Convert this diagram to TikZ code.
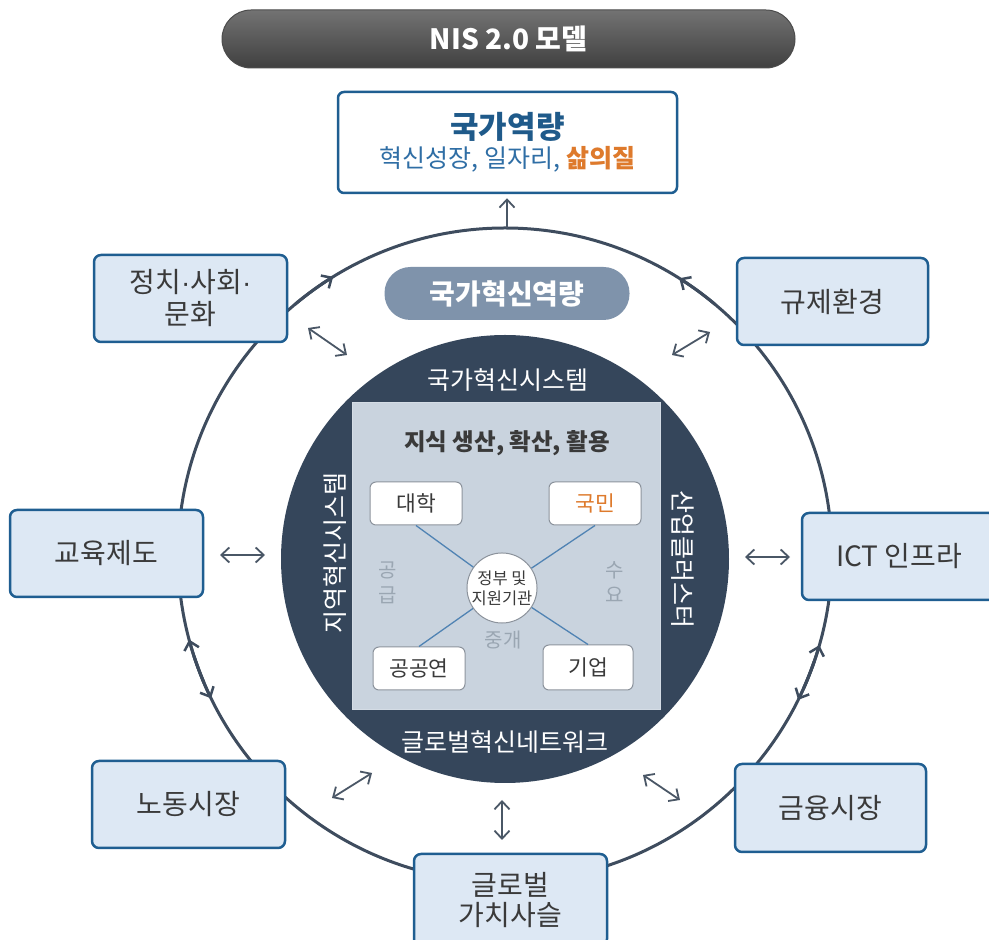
\documentclass[tikz,border=0pt]{standalone}
\usepackage{fontspec}
\setmainfont{Noto Sans CJK KR}
\newfontfamily\latinfont{Liberation Sans}
\usetikzlibrary{arrows.meta}
\definecolor{ringc}{HTML}{3E4C5E}
\definecolor{darkc}{HTML}{35465B}
\definecolor{sqc}{HTML}{C9D3DE}
\definecolor{boxfill}{HTML}{DDE8F4}
\definecolor{boxborder}{HTML}{1F5E91}
\definecolor{txtgray}{HTML}{3A3A3A}
\definecolor{inborder}{HTML}{8C939C}
\definecolor{linkc}{HTML}{5083B3}
\definecolor{lblgray}{HTML}{9AA6B2}
\definecolor{orangec}{HTML}{DE7A2C}
\definecolor{goalblue}{HTML}{1F5A8A}
\definecolor{subblue}{HTML}{2F6EA5}
\definecolor{pillc}{HTML}{7F93AB}
\definecolor{arrc}{HTML}{4A5766}
\newcommand{\mdot}{{\latinfont ·}}
\begin{document}
\begin{tikzpicture}[x=1pt,y=1pt,
  ring/.style={draw=ringc, line width=3pt},
  ringtip/.style={ring, -{Straight Barb[length=8pt,width=15pt,line width=2.5pt]}},
  dblarrow/.style={draw=arrc, line width=1.8pt, {Straight Barb[length=8pt,width=15pt]}-{Straight Barb[length=8pt,width=15pt]}},
  uparrow/.style={draw=arrc, line width=1.8pt, -{Straight Barb[length=8pt,width=15pt]}},
  sidebox/.style={draw=boxborder, line width=2.5pt, fill=boxfill, rounded corners=7pt,
    minimum width=193pt, minimum height=87pt, align=center, text=txtgray,
    font=\fontsize{28}{32}\selectfont},
  inbox/.style={draw=inborder, line width=1pt, fill=white, rounded corners=6pt,
    minimum width=92pt, minimum height=43pt, text=txtgray, font=\fontsize{21.5}{24}\selectfont},
  ontext/.style={text=white, font=\fontsize{25}{28}\selectfont},
  graylbl/.style={text=lblgray, align=center, font=\fontsize{20}{25}\selectfont},
  link/.style={draw=linkc, line width=1.3pt}
]
\useasboundingbox (0,0) rectangle (989,940);
\fill[white] (0,0) rectangle (989,940);

% title pill
\node[draw=black!70, line width=1pt, top color=black!55, bottom color=black!75,
  rounded corners=29pt, minimum width=573pt, minimum height=58pt,
  text=white, font=\bfseries\fontsize{28}{32}\selectfont] (title) at (508.5,901) {NIS 2.0 모델};

% goal box
\node[draw=boxborder, line width=2.5pt, fill=white, rounded corners=6pt,
  minimum width=339pt, minimum height=101pt, align=center] (goal) at (507.5,797.5)
  {{\color{goalblue}\bfseries\fontsize{31}{36}\selectfont 국가역량}\\[4pt]
   {\fontsize{25}{28}\selectfont\color{subblue}혁신성장, 일자리, {\color{orangec}\bfseries 삶의질}}};

% outer ring
\coordinate (O) at (505,385);
\draw[ring] (O) circle[radius=327];
\foreach \a/\b in {130/121.7, 50/57.8, 203/195, 198/206, 336/344, 341/333.7}
  \draw[ringtip] ([shift={(\a:327)}]O) arc[start angle=\a, end angle=\b, radius=327];

% arrow up to goal
\coordinate (ringtop) at (507,712);
\draw[uparrow, shorten >=4pt] (ringtop) -- (goal.south -| ringtop);

% pill national innovation capacity
\node[fill=pillc, rounded corners=26pt, minimum width=245pt, minimum height=53pt,
  text=white, font=\bfseries\fontsize{28}{32}\selectfont] (pill) at (507,646.5) {국가혁신역량};

% dark circle and square
\fill[darkc] (505,381) circle[radius=224];
\node[fill=sqc, draw=sqc!80!white, line width=1pt, minimum width=308pt, minimum height=307pt] (sq) at (506,383.5) {};

\node[ontext] (nis) at (508,560) {국가혁신시스템};
\node[ontext] (gin) at (505,198) {글로벌혁신네트워크};
\node[ontext, rotate=90] (ris) at (335,387) {지역혁신시스템};
\node[ontext, rotate=-90] (cls) at (683,380) {산업클러스터};

\node[text=txtgray, font=\bfseries\fontsize{23.5}{26}\selectfont] (know) at (507,497) {지식 생산, 확산, 활용};

\node[inbox] (univ) at (416,436.5) {대학};
\node[inbox, text=orangec] (people) at (595,436.5) {국민};
\node[inbox] (pri) at (419,271.5) {공공연};
\node[inbox, minimum width=90pt, minimum height=45pt] (firm) at (588,272.5) {기업};
\node[circle, draw=inborder, line width=1pt, fill=white, minimum size=66pt, inner sep=0pt,
  align=center, text=txtgray, font=\fontsize{16.5}{20}\selectfont] (gov) at (502,352) {정부 및\\지원기관};

\draw[link] (gov) -- (univ.south);
\draw[link] (gov) -- (people.south);
\draw[link] (gov) -- (pri.north);
\draw[link] (gov) -- (firm.north);

\node[graylbl] (sup) at (388,357.5) {공\\급};
\node[graylbl] (dem) at (615,357.5) {수\\요};
\node[graylbl] (med) at (503,300) {중개};

% side boxes
\node[sidebox] (pol) at (190.5,641.5) {정치\mdot 사회\mdot\\문화};
\node[sidebox] (edu) at (106.5,386.5) {교육제도};
\node[sidebox, minimum width=191pt] (reg) at (832.5,638.5) {규제환경};
\node[sidebox, minimum width=194pt] (ict) at (899,383.5) {ICT 인프라};
\node[sidebox] (lab) at (188.5,135.5) {노동시장};
\node[sidebox, minimum width=191pt, minimum height=88pt] (fin) at (830.5,132) {금융시장};
\node[sidebox, minimum height=92pt, font=\fontsize{28}{30}\selectfont] (gvc) at (510.5,40) {글로벌\\가치사슬};

% double arrows
\coordinate (tl1) at (308,612); \coordinate (tl2) at (347,585);
\coordinate (tr1) at (672,585); \coordinate (tr2) at (710,608);
\coordinate (l1) at (220,385); \coordinate (l2) at (265,385);
\coordinate (r1) at (745,383); \coordinate (r2) at (790,383);
\coordinate (bl1) at (332,142); \coordinate (bl2) at (372,167);
\coordinate (br1) at (643,165); \coordinate (br2) at (680,140);
\coordinate (b1) at (502,140); \coordinate (b2) at (502,100);
\draw[dblarrow] (tl1) -- (tl2);
\draw[dblarrow] (tr1) -- (tr2);
\draw[dblarrow] (l1) -- (l2);
\draw[dblarrow] (r1) -- (r2);
\draw[dblarrow] (bl1) -- (bl2);
\draw[dblarrow] (br1) -- (br2);
\draw[dblarrow] (b1) -- (b2);
\end{tikzpicture}
\end{document}
